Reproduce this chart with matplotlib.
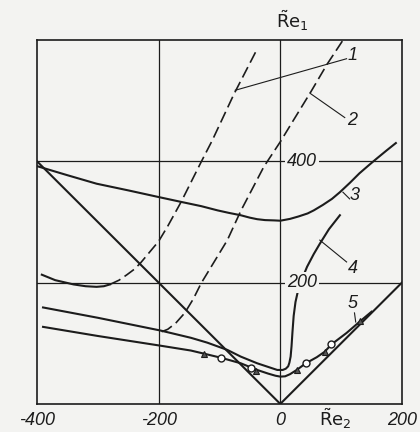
import matplotlib
matplotlib.use("Agg")
import matplotlib.pyplot as plt

# diagonals |Re2|
diag_x = [-400, 0, 200]
diag_y = [400, 0, 200]

# curve 3
c3_x = [-400, -350, -302, -250, -200, -163, -130, -103, -85, -65, -50, -38, -25, -10, 0,
        16, 30, 45, 55, 70, 85, 98, 115, 130, 145, 158, 175, 190]
c3_y = [392, 377, 363, 352, 341, 333, 326, 319, 315, 311, 307, 304.5, 303, 302.5, 302,
        305, 309, 314, 319, 328, 338, 349, 365, 380, 393, 404, 418, 430]

# curve 1 (solid left part, then dashed)
c1s_x = [-392, -370, -340, -320, -302, -290, -280]
c1s_y = [213, 204, 197, 194, 193, 194, 197]
c1d_x = [-280, -265, -252, -240, -230, -215, -200, -185, -163, -130, -112, -76, -38]
c1d_y = [197, 204, 213, 222, 232, 250, 268, 293, 333, 399, 434, 511, 585]

# curve 2 (dashed)
c2_x = [-195, -185, -172, -157, -143, -130, -87, -65, -27, 0, 17, 50, 77, 102]
c2_y = [119, 123, 133, 150, 173, 199, 270, 318, 391, 432, 460, 514, 560, 598]

# curve 4 (upper line turning up)
c4_x = [-390, -300, -197, -147, -120, -87, -65, -38, -20, -5, 4, 9, 13, 15, 17, 18.5, 20,
        22, 25, 29, 35, 44, 55, 65, 80, 98]
c4_y = [159, 142, 121, 109, 101, 89, 78, 67, 61, 56, 56, 58, 62, 68, 78, 95, 118,
        145, 168, 186, 204, 226, 247, 264, 288, 311]

# curve 5 (lower line)
c5_x = [-390, -300, -197, -147, -126, -97, -65, -38, -20, -8, 0, 8, 16, 27, 42, 60, 73, 84, 109, 131, 150]
c5_y = [127, 112, 96, 88, 83, 76, 67, 56, 50, 46.5, 45, 45.5, 49, 56, 67, 77, 86, 98, 117, 136, 152]

# experimental points
circ_x = [-97, -48, 42, 84]
circ_y = [76, 60, 67, 99]
tri_x = [-126, -40, 27, 73, 131]
tri_y = [83, 55, 56, 86, 137]

# curve labels and leader lines
lab_text = ["1", "2", "3", "4", "5"]
lab_x = [118, 118, 122, 119, 119]
lab_y = [574, 467, 343, 224, 166]
lead_x = [[109, -74], [106, 49], [114, 103], [109, 65], [122, 124]]
lead_y = [[569, 517], [472, 512], [338, 349], [234, 270], [150, 135]]

ink = "#1c1c1c"
bg = "#f3f3f1"

fig = plt.figure(figsize=(4.2, 4.32), dpi=100, facecolor=bg)
ax = fig.add_axes([0.088, 0.065, 0.869, 0.8426])
ax.set_facecolor(bg)
ax.set_xlim(-400, 200)
ax.set_ylim(0, 600)

for gx in [-200, 0]:
    ax.axvline(gx, color=ink, lw=0.9, zorder=1)
for gy in [200, 400]:
    ax.axhline(gy, color=ink, lw=0.9, zorder=1)

lw = 1.5
ax.plot(diag_x, diag_y, color=ink, lw=lw, zorder=3)
ax.plot(c3_x, c3_y, color=ink, lw=lw, zorder=3)
ax.plot(c1s_x, c1s_y, color=ink, lw=lw, zorder=3)
ax.plot(c1d_x, c1d_y, color=ink, lw=1.2, ls=(0, (7, 3)), zorder=3)
ax.plot(c2_x, c2_y, color=ink, lw=1.2, ls=(0, (7, 3)), zorder=3)
ax.plot(c4_x, c4_y, color=ink, lw=lw, zorder=3)
ax.plot(c5_x, c5_y, color=ink, lw=lw, zorder=3)

ax.plot(circ_x, circ_y, "o", ms=5, mfc="white", mec=ink, mew=1.0, zorder=4)
ax.plot(tri_x, tri_y, "^", ms=5, mfc="#555555", mec=ink, mew=0.8, zorder=4)

for t, x, y, lx, ly in zip(lab_text, lab_x, lab_y, lead_x, lead_y):
    ax.plot(lx, ly, color=ink, lw=0.8, zorder=3)
    ax.text(x, y, t, fontsize=13, style="italic", family="Liberation Sans",
            ha="center", va="center", color=ink)

# value labels on the Re1 axis
for v in [400, 200]:
    ax.text(11, v, str(v), fontsize=13, style="italic", family="Liberation Sans",
            ha="left", va="center", color=ink, zorder=5,
            bbox=dict(boxstyle="square,pad=0.1", fc=bg, ec="none"))

ax.set_xticks([-400, -200, 0, 200], ["-400", "-200", "0", "200"])
ax.set_yticks([])
ax.tick_params(axis="x", length=0, pad=6, labelsize=13, colors=ink)
for lbl in ax.get_xticklabels():
    lbl.set_fontstyle("italic")
    lbl.set_family("Liberation Sans")

ax.text(90, -5, r"$\tilde{\mathrm{R}}\mathrm{e}_2$", fontsize=13, ha="center",
        va="top", color=ink, clip_on=False)
ax.text(20, 612, r"$\tilde{\mathrm{R}}\mathrm{e}_1$", fontsize=13, ha="center",
        va="bottom", color=ink, clip_on=False)

for s in ax.spines.values():
    s.set_linewidth(1.2)
    s.set_color(ink)

fig.savefig("out.png", dpi=100, facecolor=bg)
